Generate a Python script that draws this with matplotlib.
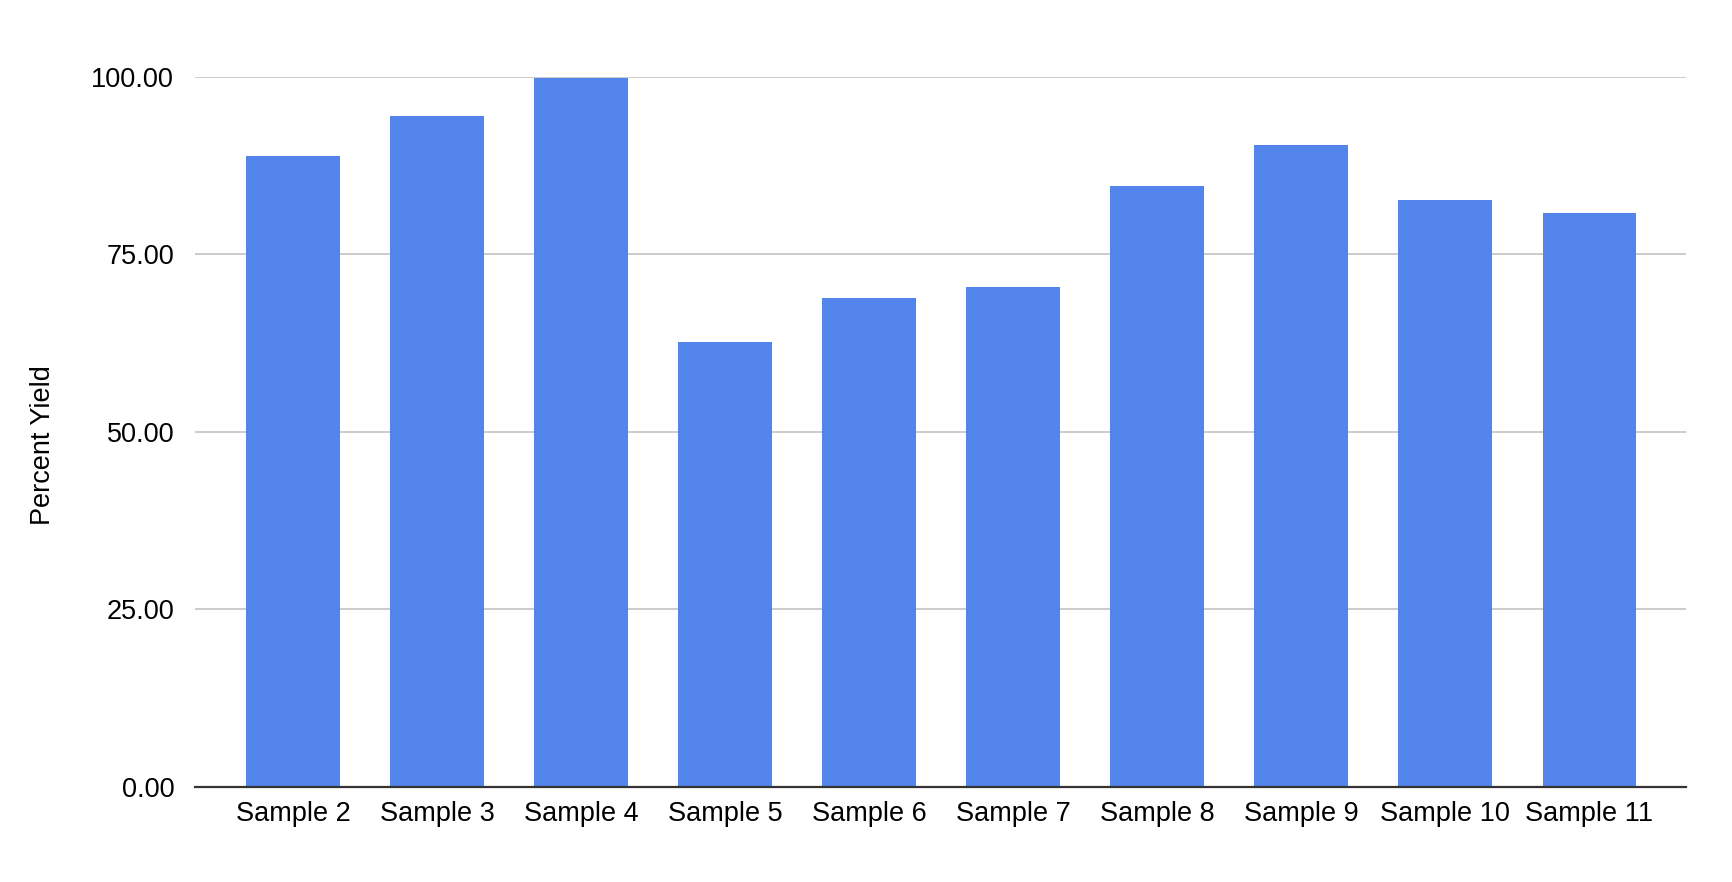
import matplotlib
matplotlib.use("Agg")
import matplotlib.pyplot as plt
from matplotlib.ticker import FixedLocator, FuncFormatter

categories = ["Sample 2", "Sample 3", "Sample 4", "Sample 5", "Sample 6",
              "Sample 7", "Sample 8", "Sample 9", "Sample 10", "Sample 11"]
percent_yield = [88.8, 94.4, 99.8, 62.7, 68.8, 70.4, 84.6, 90.4, 82.7, 80.8]
y_ticks = [0, 25, 50, 75, 100]

plt.rcParams['font.family'] = ['Liberation Sans', 'DejaVu Sans']

W, H, DPI = 1732, 882, 100
fig = plt.figure(figsize=(W / DPI, H / DPI), dpi=DPI)
ax = fig.add_axes([195 / W, 1 - 786.7 / H, (1686 - 195) / W, (786.7 - 76.7) / H])

x = list(range(len(categories)))
ax.bar(x, percent_yield, width=0.652, color="#5384EC", linewidth=0, zorder=3)

ax.set_xlim(-0.68, 9.67)
ax.set_ylim(0, 100)
ax.yaxis.set_major_locator(FixedLocator(y_ticks))
ax.yaxis.set_major_formatter(FuncFormatter(lambda v, p: f"{v:.2f}"))
ax.set_xticks(x)
ax.set_xticklabels(categories)

ax.grid(axis="y", color="#CCCCCC", linewidth=1.4, zorder=0)
ax.grid(axis="x", visible=False)
for s in ["top", "right", "left"]:
    ax.spines[s].set_visible(False)
ax.spines["bottom"].set_color("#333333")
ax.spines["bottom"].set_linewidth(1.6)
ax.spines["bottom"].set_zorder(4)

ax.tick_params(axis="both", length=0, labelsize=19.5, colors="#000000")
ax.tick_params(axis="y", pad=15)
ax.tick_params(axis="x", pad=10)

ax.set_ylabel("Percent Yield", fontsize=19.5, color="#000000")
ax.yaxis.set_label_coords(-0.0935, 0.481)

fig.savefig("out.png", dpi=DPI, facecolor="white")
